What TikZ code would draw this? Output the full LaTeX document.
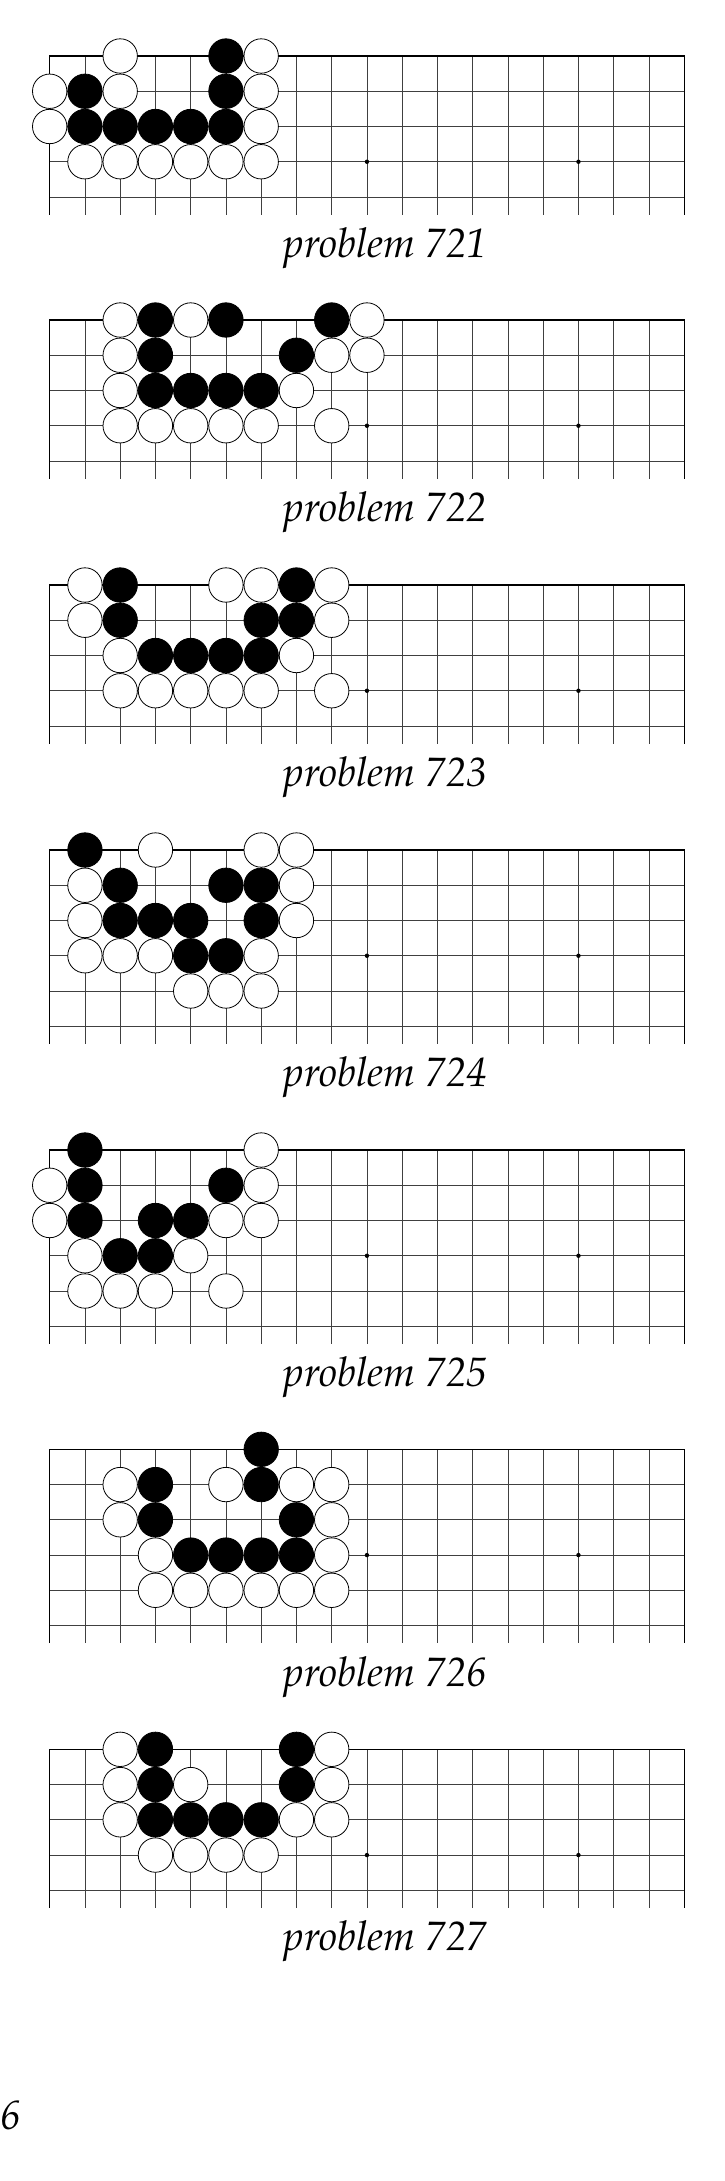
\documentclass[tikz,border=0pt]{standalone}
\usepackage[T1]{fontenc}
\usepackage{mathpazo}
\tikzset{
  gridline/.style={line width=0.7pt, black!75},
  edgeline/.style={line width=1.3pt, black, line cap=butt},
  wstone/.style={draw=black, fill=white, line width=0.8pt},
  bstone/.style={draw=black, fill=black, line width=0.8pt},
  starpt/.style={fill=black},
  caption/.style={font=\fontsize{41}{49}\selectfont\itshape, anchor=base, inner sep=0pt},
}
\newcommand{\gbS}{35.25}
\newcommand{\gbX}{49.7}
% board: #1 top y, #2 number of rows
\newcommand{\gbBoard}[2]{%
  \pgfmathtruncatemacro{\gbLast}{#2-1}%
  \foreach \r in {1,...,\gbLast} \draw[gridline] (\gbX, #1+\r*\gbS) -- (\gbX+18*\gbS, #1+\r*\gbS);
  \foreach \c in {1,...,17} \draw[gridline] (\gbX+\c*\gbS, #1) -- (\gbX+\c*\gbS, #1+\gbLast*\gbS+0.5*\gbS);
  \draw[edgeline] (\gbX, #1+\gbLast*\gbS+0.5*\gbS) -- (\gbX,#1) -- (\gbX+18*\gbS,#1) -- (\gbX+18*\gbS,#1+\gbLast*\gbS+0.5*\gbS);
  \fill[starpt] (\gbX+9*\gbS, #1+3*\gbS) circle (2.2);
  \fill[starpt] (\gbX+15*\gbS, #1+3*\gbS) circle (2.2);
}
% stones: #1 top y, #2 style, #3 list c/r
\newcommand{\gbStones}[3]{%
  \foreach \c/\r in {#3} \draw[#2] (\gbX+\c*\gbS, #1+\r*\gbS) circle (17.2);
}
\begin{document}
\begin{tikzpicture}[x=1pt,y=-1pt]
\useasboundingbox (0,0) rectangle (725,2181);
% 721
\gbBoard{56}{5}
\gbStones{56}{wstone}{2/0,6/0,0/1,2/1,6/1,0/2,6/2,1/3,2/3,3/3,4/3,5/3,6/3}
\gbStones{56}{bstone}{5/0,1/1,5/1,1/2,2/2,3/2,4/2,5/2}
\node[caption] (cap721) at (385.5,257.6) {problem 721};
% 722
\gbBoard{320}{5}
\gbStones{320}{wstone}{2/0,4/0,9/0,2/1,8/1,9/1,2/2,7/2,2/3,3/3,4/3,5/3,6/3,8/3}
\gbStones{320}{bstone}{3/0,5/0,8/0,3/1,7/1,3/2,4/2,5/2,6/2}
\node[caption] (cap722) at (385.5,521.6) {problem 722};
% 723
\gbBoard{585}{5}
\gbStones{585}{wstone}{1/0,5/0,6/0,8/0,1/1,8/1,2/2,7/2,2/3,3/3,4/3,5/3,6/3,8/3}
\gbStones{585}{bstone}{2/0,7/0,2/1,6/1,7/1,3/2,4/2,5/2,6/2}
\node[caption] (cap723) at (385.5,786.6) {problem 723};
% 724
\gbBoard{850}{6}
\gbStones{850}{wstone}{3/0,6/0,7/0,1/1,7/1,1/2,7/2,1/3,2/3,3/3,6/3,4/4,5/4,6/4}
\gbStones{850}{bstone}{1/0,2/1,5/1,6/1,2/2,3/2,4/2,6/2,4/3,5/3}
\node[caption] (cap724) at (385.5,1086.9) {problem 724};
% 725
\gbBoard{1150}{6}
\gbStones{1150}{wstone}{6/0,0/1,6/1,0/2,5/2,6/2,1/3,4/3,1/4,2/4,3/4,5/4}
\gbStones{1150}{bstone}{1/0,1/1,5/1,1/2,3/2,4/2,2/3,3/3}
\node[caption] (cap725) at (385.5,1386.9) {problem 725};
% 726
\gbBoard{1449.3}{6}
\gbStones{1449.3}{wstone}{2/1,5/1,7/1,8/1,2/2,8/2,3/3,8/3,3/4,4/4,5/4,6/4,7/4,8/4}
\gbStones{1449.3}{bstone}{6/0,3/1,6/1,3/2,7/2,4/3,5/3,6/3,7/3}
\node[caption] (cap726) at (385.5,1686.2) {problem 726};
% 727
\gbBoard{1749.3}{5}
\gbStones{1749.3}{wstone}{2/0,8/0,2/1,4/1,8/1,2/2,7/2,8/2,3/3,4/3,5/3,6/3}
\gbStones{1749.3}{bstone}{3/0,7/0,3/1,7/1,3/2,4/2,5/2,6/2}
\node[caption] (cap727) at (385.5,1950.9) {problem 727};
% page number
\node[caption, anchor=base west] (pagenum) at (0,2129.5) {6};
\end{tikzpicture}
\end{document}
